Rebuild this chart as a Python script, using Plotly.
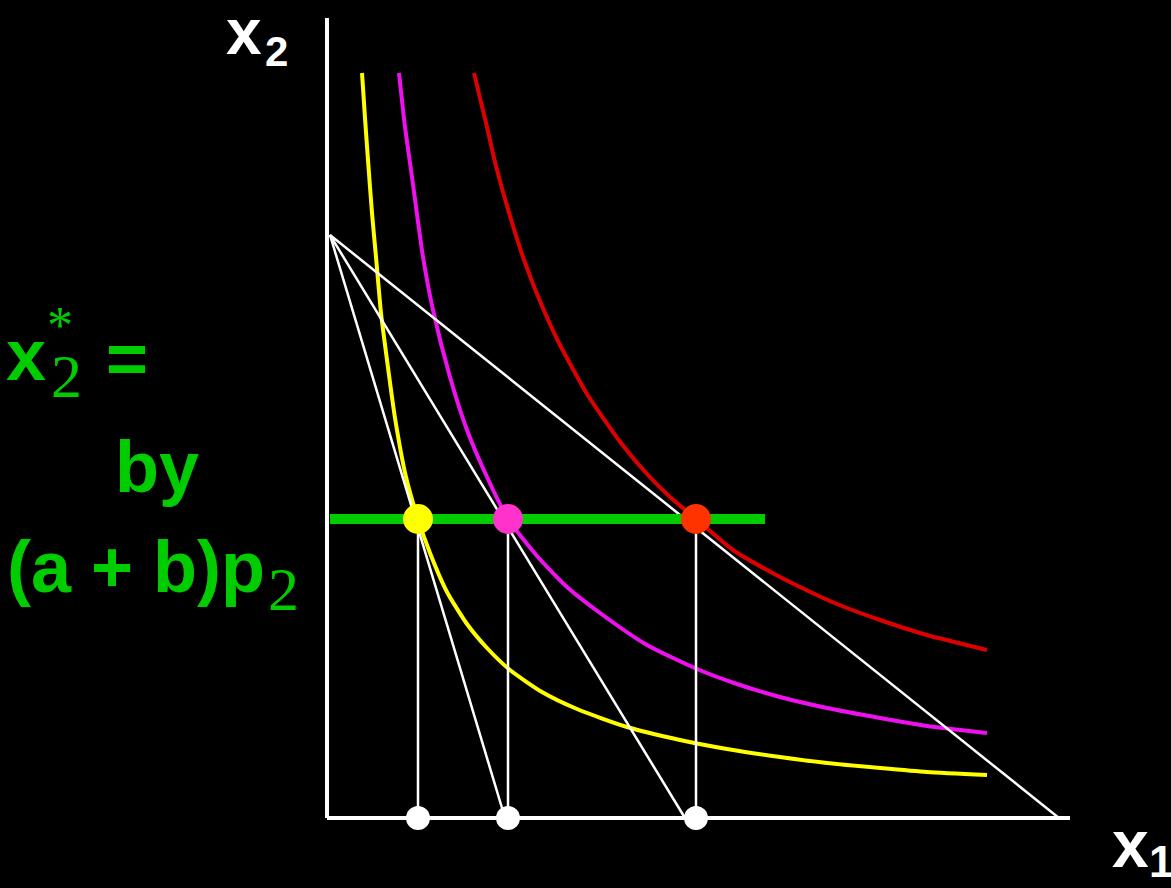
import plotly.graph_objects as go

# ---------------- data (units: x1, x2) ----------------
x2_star = 29.9
x1_star = [9.1, 18.1, 36.9]
point_colors = ["#FFFF00", "#FF33CC", "#FF3300"]

budget_x2_intercept = 58.3
budget_start_x1 = 0.3
budget_x1_intercepts = [17.8, 35.8, 73.2]

green_line_end = 43.8
x1_axis_max = 74.3
x2_axis_max = 80.0

# indifference curves
yellow_x1 = [3.5, 3.8, 4.1, 4.5, 4.9, 5.4, 6.0, 6.8, 7.9, 9.1, 10.3, 12.0, 14.0, 16.0, 18.3,
             21.5, 25.0, 30.0, 35.3, 40.0, 45.3, 50.0, 55.3, 60.0, 66.0]
yellow_x2 = [74.5, 70.0, 65.8, 60.5, 56.1, 50.5, 45.8, 40.0, 34.1, 29.9, 26.5, 22.6, 19.4, 17.0, 14.8,
             12.6, 10.9, 9.1, 7.8, 6.9, 6.1, 5.5, 5.0, 4.6, 4.3]

pink_x1 = [7.2, 7.8, 8.5, 9.6, 10.6, 12.3, 14.0, 16.0, 18.1, 21.0, 24.0, 27.3, 32.0, 37.0, 41.0,
           45.3, 50.0, 55.3, 60.0, 66.0]
pink_x2 = [74.5, 69.1, 64.1, 56.1, 50.8, 44.1, 38.8, 34.1, 29.9, 26.2, 23.1, 20.5, 17.3, 14.9, 13.4,
           12.1, 11.0, 10.0, 9.2, 8.5]

red_x1 = [14.7, 15.3, 16.0, 16.8, 17.6, 18.6, 19.7, 21.5, 23.2, 26.0, 29.4, 32.0, 34.3, 36.9, 40.6,
          44.0, 47.3, 51.0, 55.3, 60.0, 66.0]
red_x2 = [74.5, 72.0, 69.1, 65.6, 62.6, 59.2, 55.8, 51.2, 47.5, 42.4, 37.5, 34.4, 32.1, 29.9, 26.8,
          24.8, 23.1, 21.4, 19.8, 18.3, 16.8]

curve_colors = ["#FFFF00", "#EE11EE", "#DD0000"]

fig = go.Figure()

# axes
fig.add_trace(go.Scatter(x=[0, 0], y=[0, x2_axis_max], mode="lines",
                         line=dict(color="white", width=4), hoverinfo="skip"))
fig.add_trace(go.Scatter(x=[0, x1_axis_max], y=[0, 0], mode="lines",
                         line=dict(color="white", width=4), hoverinfo="skip"))

# indifference curves
for xs, ys, c in [(yellow_x1, yellow_x2, curve_colors[0]),
                  (pink_x1, pink_x2, curve_colors[1]),
                  (red_x1, red_x2, curve_colors[2])]:
    fig.add_trace(go.Scatter(x=xs, y=ys, mode="lines",
                             line=dict(color=c, width=4, shape="spline", smoothing=0.6),
                             hoverinfo="skip"))

# budget lines
for xi in budget_x1_intercepts:
    fig.add_trace(go.Scatter(x=[budget_start_x1, xi], y=[budget_x2_intercept, 0], mode="lines",
                             line=dict(color="white", width=2.5), hoverinfo="skip"))

# green x2* line
fig.add_trace(go.Scatter(x=[budget_start_x1, green_line_end], y=[x2_star, x2_star], mode="lines",
                         line=dict(color="#00CC00", width=10), hoverinfo="skip"))

# vertical drop lines
for xv in x1_star:
    fig.add_trace(go.Scatter(x=[xv, xv], y=[x2_star, 0], mode="lines",
                             line=dict(color="white", width=2.5), hoverinfo="skip"))

# optimum points
fig.add_trace(go.Scatter(x=x1_star, y=[x2_star] * len(x1_star), mode="markers",
                         marker=dict(color=point_colors, size=30, line=dict(width=0)),
                         hoverinfo="skip"))
# points on x1 axis
fig.add_trace(go.Scatter(x=x1_star, y=[0] * len(x1_star), mode="markers",
                         marker=dict(color="white", size=24, line=dict(width=0)),
                         hoverinfo="skip"))

W, H = 1171, 888


def px(x):
    return x / W


def py(y):
    return 1 - y / H


SANS = "Liberation Sans, Arial, sans-serif"
SERIF = "Liberation Serif, Times New Roman, serif"
GREEN = "#00CC00"

annots = [
    # axis labels
    dict(text="<b>x</b>", x=px(244), y=py(32), font=dict(family=SANS, size=64, color="white")),
    dict(text="<b>2</b>", x=px(276), y=py(52), font=dict(family=SANS, size=42, color="white")),
    dict(text="<b>x</b>", x=px(1130), y=py(844), font=dict(family=SANS, size=66, color="white")),
    dict(text="<b>1</b>", x=px(1161), y=py(861), font=dict(family=SANS, size=44, color="white")),
    # green formula
    dict(text="<b>x</b>", x=px(26), y=py(355), font=dict(family=SANS, size=72, color=GREEN)),
    dict(text="*", x=px(60), y=py(325), font=dict(family=SERIF, size=52, color=GREEN)),
    dict(text="2", x=px(66), y=py(376), font=dict(family=SERIF, size=62, color=GREEN)),
    dict(text="<b>=</b>", x=px(127), y=py(358), font=dict(family=SANS, size=72, color=GREEN)),
    dict(text="<b>by</b>", x=px(157), y=py(467), font=dict(family=SANS, size=72, color=GREEN)),
    dict(text="<b>(a + b)p</b>", x=px(136), y=py(567), font=dict(family=SANS, size=72, color=GREEN)),
    dict(text="2", x=px(283), y=py(589), font=dict(family=SERIF, size=62, color=GREEN)),
]
for a in annots:
    a.update(xref="paper", yref="paper", showarrow=False, xanchor="center", yanchor="middle")

fig.update_layout(
    width=W, height=H,
    margin=dict(l=0, r=0, t=0, b=0),
    paper_bgcolor="black", plot_bgcolor="black",
    showlegend=False,
    xaxis=dict(range=[-32.7, 84.4], visible=False, fixedrange=True),
    yaxis=dict(range=[-7.0, 81.8], visible=False, fixedrange=True),
    annotations=annots,
)

fig.write_html(
    "out.html",
    config={"displayModeBar": False},
    post_script="document.body.style.margin='0';document.body.style.background='black';"
                "document.documentElement.style.overflow='hidden';",
)
